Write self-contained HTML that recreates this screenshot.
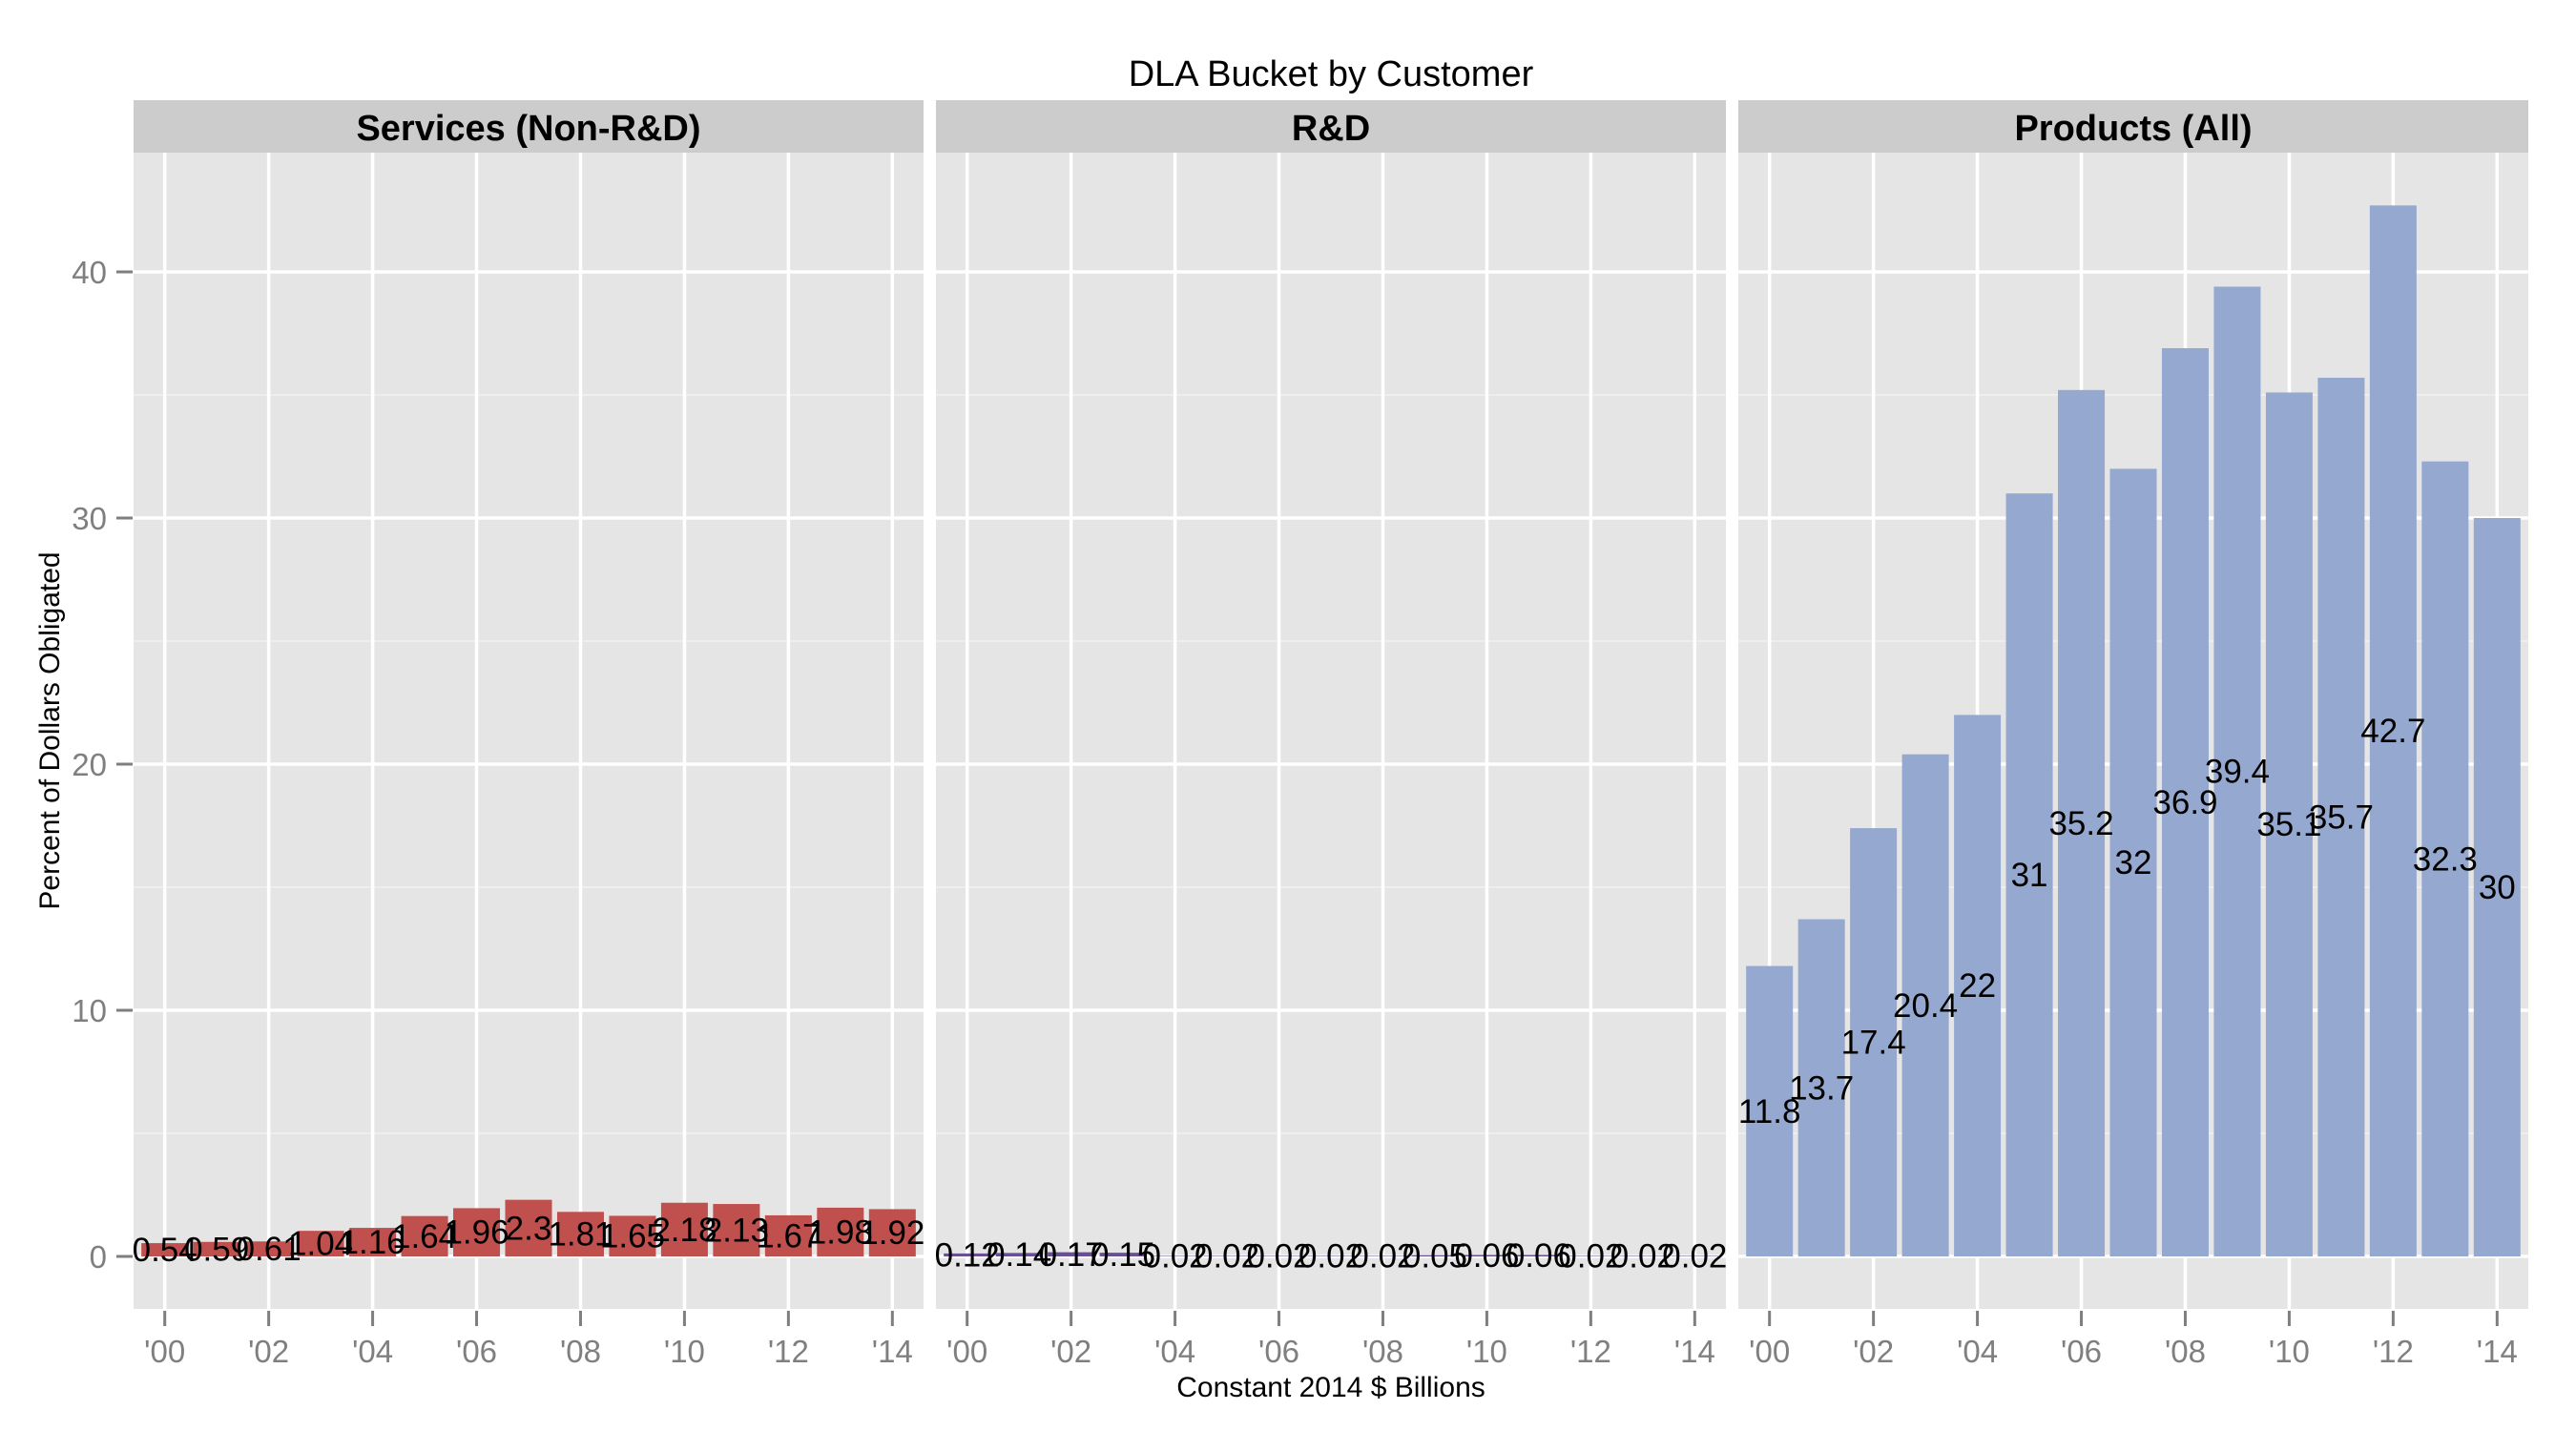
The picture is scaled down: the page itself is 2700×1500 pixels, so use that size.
<!DOCTYPE html>
<html><head><meta charset="utf-8"><style>
html,body{margin:0;padding:0;background:#fff;}
svg{display:block;font-family:"Liberation Sans",Arial,sans-serif;}
</style></head><body>
<svg id="chart" width="2700" height="1500" viewBox="0 0 2700 1500" xmlns="http://www.w3.org/2000/svg">
<text x="1395" y="90" font-size="38" text-anchor="middle" fill="#000">DLA Bucket by Customer</text>
<text transform="translate(62,766) rotate(-90)" font-size="30" text-anchor="middle" fill="#000">Percent of Dollars Obligated</text>
<text x="1395" y="1464" font-size="30" text-anchor="middle" fill="#000">Constant 2014 $ Billions</text>
<g id="panels"></g>
</svg>
<script>
const years = [2000,2001,2002,2003,2004,2005,2006,2007,2008,2009,2010,2011,2012,2013,2014];
const panelNames = ["Services (Non-R&D)","R&D","Products (All)"];
const servicesValues = [0.54,0.59,0.61,1.04,1.16,1.64,1.96,2.3,1.81,1.65,2.18,2.13,1.67,1.98,1.92];
const rndValues = [0.12,0.14,0.17,0.15,0.02,0.02,0.02,0.02,0.02,0.05,0.06,0.06,0.02,0.02,0.02];
const productsValues = [11.8,13.7,17.4,20.4,22,31,35.2,32,36.9,39.4,35.1,35.7,42.7,32.3,30];
const yTicks = [0,10,20,30,40];
const yMinor = [5,15,25,35];
const xTickYears = [2000,2002,2004,2006,2008,2010,2012,2014];
const xTickLabels = ["'00","'02","'04","'06","'08","'10","'12","'14"];

const NS="http://www.w3.org/2000/svg";
const g=document.getElementById('panels');
function mk(tag,attrs,parent){const e=document.createElementNS(NS,tag);for(const k in attrs)e.setAttribute(k,attrs[k]);(parent||g).appendChild(e);return e;}
const panelLefts=[140,981,1822], PW=828, PT=160, PB=1372;
const y=v=>1317-(v)*25.8;
const seriesList=[servicesValues,rndValues,productsValues];
const colors=["#c0504d","#6b4f96","#95a9d0"];
const panelKeys=["services","rnd","products"];
panelLefts.forEach((L,pi)=>{
  const x=yr=>L+(yr-2000+0.6)*(PW/15.2);
  const bw=0.9*PW/15.2;
  const strip=mk('rect',{x:L,y:105,width:PW,height:55,fill:'#cccccc'});
  
  
  const st=mk('text',{x:L+PW/2,y:147,'font-size':38,'font-weight':'bold','text-anchor':'middle',fill:'#000'});
  st.textContent=panelNames[pi];
  
  
  const bg=mk('rect',{x:L,y:PT,width:PW,height:PB-PT,fill:'#e5e5e5'});
  
  
  yMinor.forEach(v=>{const l=mk('line',{x1:L,x2:L+PW,y1:y(v),y2:y(v),stroke:'#f2f2f2','stroke-width':1.5});
    
    });
  yTicks.forEach(v=>{const l=mk('line',{x1:L,x2:L+PW,y1:y(v),y2:y(v),stroke:'#fff','stroke-width':3.5});
    
    });
  xTickYears.forEach((yr,i)=>{
    const l=mk('line',{x1:x(yr),x2:x(yr),y1:PT,y2:PB,stroke:'#fff','stroke-width':3.5});
    
    
    const t=mk('line',{x1:x(yr),x2:x(yr),y1:PB+2,y2:PB+18,stroke:'#7f7f7f','stroke-width':3});
    
    
    const tl=mk('text',{x:x(yr),y:PB+56,'font-size':33,'text-anchor':'middle',fill:'#7f7f7f'});
    tl.textContent=xTickLabels[i];
    
    
  });
  const vals=seriesList[pi];
  years.forEach((yr,i)=>{
    const v=vals[i];
    const b=mk('rect',{x:x(yr)-bw/2,y:y(v),width:bw,height:Math.max(y(0)-y(v),0.5),fill:colors[pi]});
    
    
  });
  years.forEach((yr,i)=>{
    const v=vals[i];
    const t=mk('text',{x:x(yr),y:y(v/2)+12,'font-size':35,'text-anchor':'middle',fill:'#000'});
    t.textContent=String(v);
    
    
  });
});
yTicks.forEach(v=>{
  const t=mk('line',{x1:122,x2:139,y1:y(v),y2:y(v),stroke:'#7f7f7f','stroke-width':3});
  
  
  const tl=mk('text',{x:112,y:y(v)+12,'font-size':33,'text-anchor':'end',fill:'#7f7f7f'});
  tl.textContent=String(v);
  
  
});
</script>
</body></html>
